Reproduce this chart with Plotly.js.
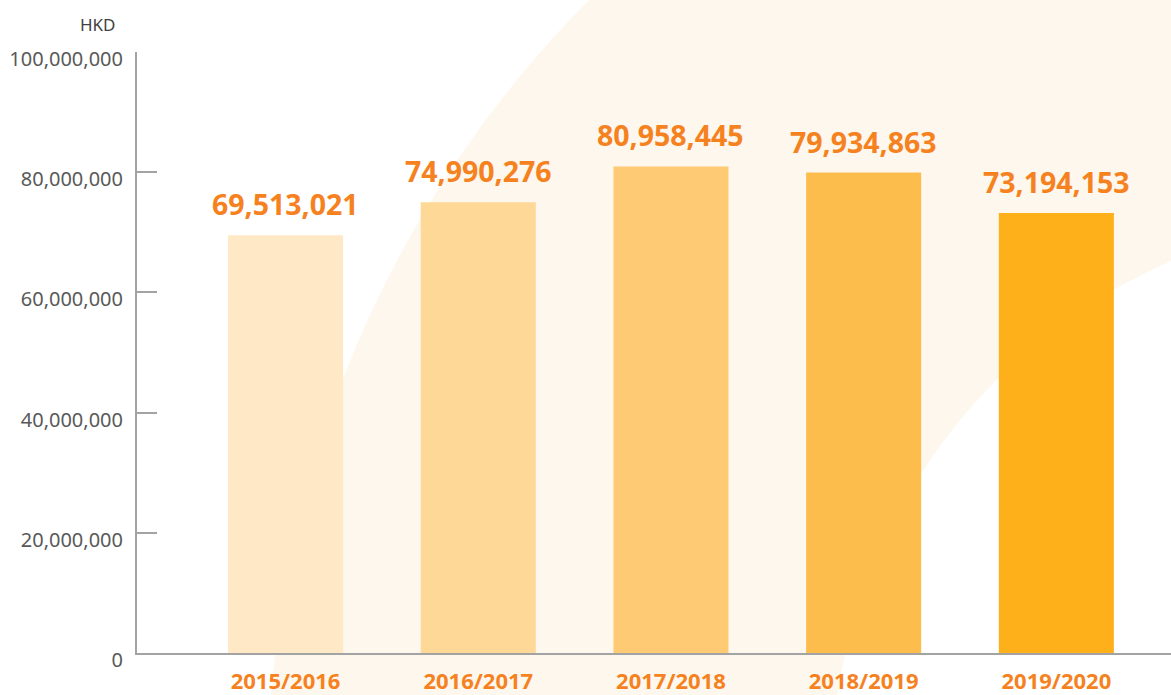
<!DOCTYPE html>
<html>
<head>
<meta charset="utf-8">
<script src="https://cdn.plot.ly/plotly-3.0.1.min.js"></script>
<style>html,body{margin:0;padding:0;background:#fff;}#chart{width:1171px;height:695px;}</style>
</head>
<body>
<div id="chart"></div>
<script>
var categories = ["2015/2016", "2016/2017", "2017/2018", "2018/2019", "2019/2020"];
var values = [69513021, 74990276, 80958445, 79934863, 73194153];
var barColors = ["#FFE8C5", "#FED896", "#FECA73", "#FCBD4D", "#FDB01A"];
var yTickVals = [0, 20000000, 40000000, 60000000, 80000000, 100000000];
var yTickText = ["0", "20,000,000", "40,000,000", "60,000,000", "80,000,000", "100,000,000"];
var unitLabel = "HKD";

var W = 1171, H = 695;
var mL = 137, mR = 0, mT = 52, mB = 42;
var pw = W - mL - mR, ph = H - mT - mB;
function px2x(px){ return (px - mL) / pw; }
function py2y(py){ return (H - mB - py) / ph; }

// decorative background ring (pixel geometry)
var c1 = {x:1374, y:779, r:1106}, c2 = {x:1397, y:780, r:566};
var pts = [];
var yi0 = c2.y - Math.sqrt(c2.r*c2.r - Math.pow(1180 - c2.x, 2));
pts.push([c1.x - Math.sqrt(c1.r*c1.r - Math.pow(-5 - c1.y,2)), -5]);
pts.push([1180, -5]);
pts.push([1180, yi0]);
for (var y = yi0; y <= 700; y += 5) {
  pts.push([c2.x - Math.sqrt(c2.r*c2.r - Math.pow(y - c2.y, 2)), y]);
}
pts.push([c2.x - Math.sqrt(c2.r*c2.r - Math.pow(700 - c2.y, 2)), 700]);
for (var y2 = 700; y2 >= -5; y2 -= 5) {
  pts.push([c1.x - Math.sqrt(c1.r*c1.r - Math.pow(y2 - c1.y, 2)), y2]);
}
var path = pts.map(function(p, i){ return (i ? "L" : "M") + px2x(p[0]).toFixed(5) + "," + py2y(p[1]).toFixed(5); }).join(" ") + " Z";

var fmt = function(v){ return v.toLocaleString("en-US"); };

var trace = {
  type: "bar",
  x: [0,1,2,3,4],
  y: values,
  width: 0.597,
  marker: {color: barColors, line: {width: 0}},
  hoverinfo: "none"
};

var annotations = values.map(function(v, i){
  return {x: i, y: v, xref: "x", yref: "y", text: fmt(v), showarrow: false,
    yanchor: "bottom", yshift: 10,
    font: {family: "Open Sans", size: 28.5, color: "#F5821F", weight: 700}};
});
annotations.push({
  x: px2x(118), y: py2y(24), xref: "paper", yref: "paper", text: unitLabel, showarrow: false,
  xanchor: "right", yanchor: "middle",
  font: {family: "Noto Sans", size: 17, color: "#404040"}
});

var layout = {
  width: W, height: H,
  margin: {l: mL, r: mR, t: mT, b: mB, pad: 0},
  paper_bgcolor: "#ffffff",
  plot_bgcolor: "rgba(0,0,0,0)",
  showlegend: false,
  xaxis: {
    range: [-0.771, 4.595],
    tickvals: [0,1,2,3,4],
    ticktext: categories,
    showgrid: false, zeroline: false,
    showline: true, linecolor: "#A3A3A3", linewidth: 2,
    ticks: "", ticklabelstandoff: 8,
    tickfont: {family: "Open Sans", size: 22, color: "#F5821F", weight: 700},
    fixedrange: true
  },
  yaxis: {
    range: [0, 100000000],
    tickvals: yTickVals, ticktext: yTickText,
    showgrid: false, zeroline: false,
    showline: true, linecolor: "#A3A3A3", linewidth: 2,
    ticks: "inside", ticklen: 20, tickwidth: 2, tickcolor: "#A3A3A3",
    ticklabelstandoff: 8, ticklabelshift: 7,
    tickfont: {family: "Noto Sans", size: 20, color: "#595959"},
    fixedrange: true
  },
  shapes: [{type: "path", xref: "paper", yref: "paper", path: path,
    fillcolor: "#FEF7EE", line: {width: 0}, layer: "below"}],
  annotations: annotations
};

Plotly.newPlot("chart", [trace], layout, {displayModeBar: false, staticPlot: true});
</script>
</body>
</html>
